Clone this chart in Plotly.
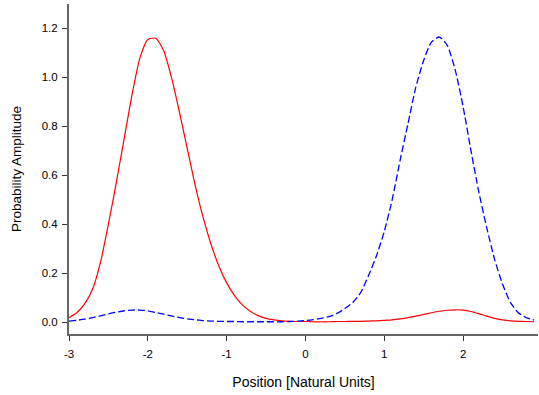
import plotly.graph_objects as go

x_vals = [round(-3.0 + 0.1 * i, 1) for i in range(60)]

red_vals = [0.018, 0.038, 0.075, 0.135, 0.245, 0.40, 0.57, 0.75, 0.93, 1.08,
            1.155, 1.16, 1.11, 1.00, 0.86, 0.71, 0.56, 0.43, 0.32, 0.23,
            0.160, 0.108, 0.070, 0.044, 0.026, 0.015, 0.009, 0.005, 0.003, 0.002,
            0.002, 0.001, 0.001, 0.001, 0.002, 0.002, 0.003, 0.003, 0.004, 0.005,
            0.007, 0.009, 0.013, 0.018, 0.024, 0.031, 0.038, 0.044, 0.048, 0.050,
            0.049, 0.043, 0.034, 0.024, 0.015, 0.009, 0.005, 0.003, 0.002, 0.001]

blue_vals = [0.004, 0.007, 0.012, 0.018, 0.025, 0.033, 0.040, 0.046, 0.049, 0.049,
             0.046, 0.039, 0.032, 0.025, 0.018, 0.013, 0.009, 0.006, 0.004, 0.003,
             0.002, 0.002, 0.001, 0.001, 0.001, 0.001, 0.001, 0.001, 0.002, 0.004,
             0.006, 0.010, 0.015, 0.022, 0.035, 0.055, 0.080, 0.120, 0.190, 0.270,
             0.370, 0.500, 0.660, 0.810, 0.960, 1.070, 1.145, 1.165, 1.130, 1.030,
             0.880, 0.700, 0.530, 0.385, 0.255, 0.155, 0.080, 0.038, 0.018, 0.008]

x_ticks = [-3, -2, -1, 0, 1, 2]
y_ticks = [0.0, 0.2, 0.4, 0.6, 0.8, 1.0, 1.2]

fig = go.Figure()
fig.add_trace(go.Scatter(x=x_vals, y=red_vals, mode="lines",
                         line=dict(color="#ff0000", width=1.2, shape="spline", smoothing=0.6),
                         showlegend=False))
fig.add_trace(go.Scatter(x=x_vals, y=blue_vals, mode="lines",
                         line=dict(color="#0000ff", width=1.3, dash="7px,3px", shape="spline", smoothing=0.6),
                         showlegend=False))

font_family = "Liberation Sans, Arial, sans-serif"
fig.update_layout(
    width=539, height=395,
    margin=dict(l=69, r=1, t=4, b=61),
    plot_bgcolor="white", paper_bgcolor="white",
    font=dict(family=font_family, color="black", size=11),
    xaxis=dict(range=[-3, 2.95], tickvals=x_ticks, ticktext=[str(t) for t in x_ticks],
               showgrid=False, zeroline=False, showline=True, linecolor="#666666", linewidth=2,
               ticks="outside", ticklen=5, tickcolor="#333333", tickwidth=1,
               tickfont=dict(size=11.5), ticklabelstandoff=3,
               title=dict(text="Position [Natural Units]", font=dict(size=14), standoff=18)),
    yaxis=dict(range=[-0.049, 1.30], tickvals=y_ticks, ticktext=["%.1f" % t for t in y_ticks],
               showgrid=False, zeroline=False, showline=True, linecolor="#666666", linewidth=2,
               ticks="outside", ticklen=5, tickcolor="#333333", tickwidth=1,
               tickfont=dict(size=11.5), ticklabelstandoff=2,
               title=dict(text="Probability Amplitude", font=dict(size=13.5), standoff=17)),
)

fig.write_html("out.html")
